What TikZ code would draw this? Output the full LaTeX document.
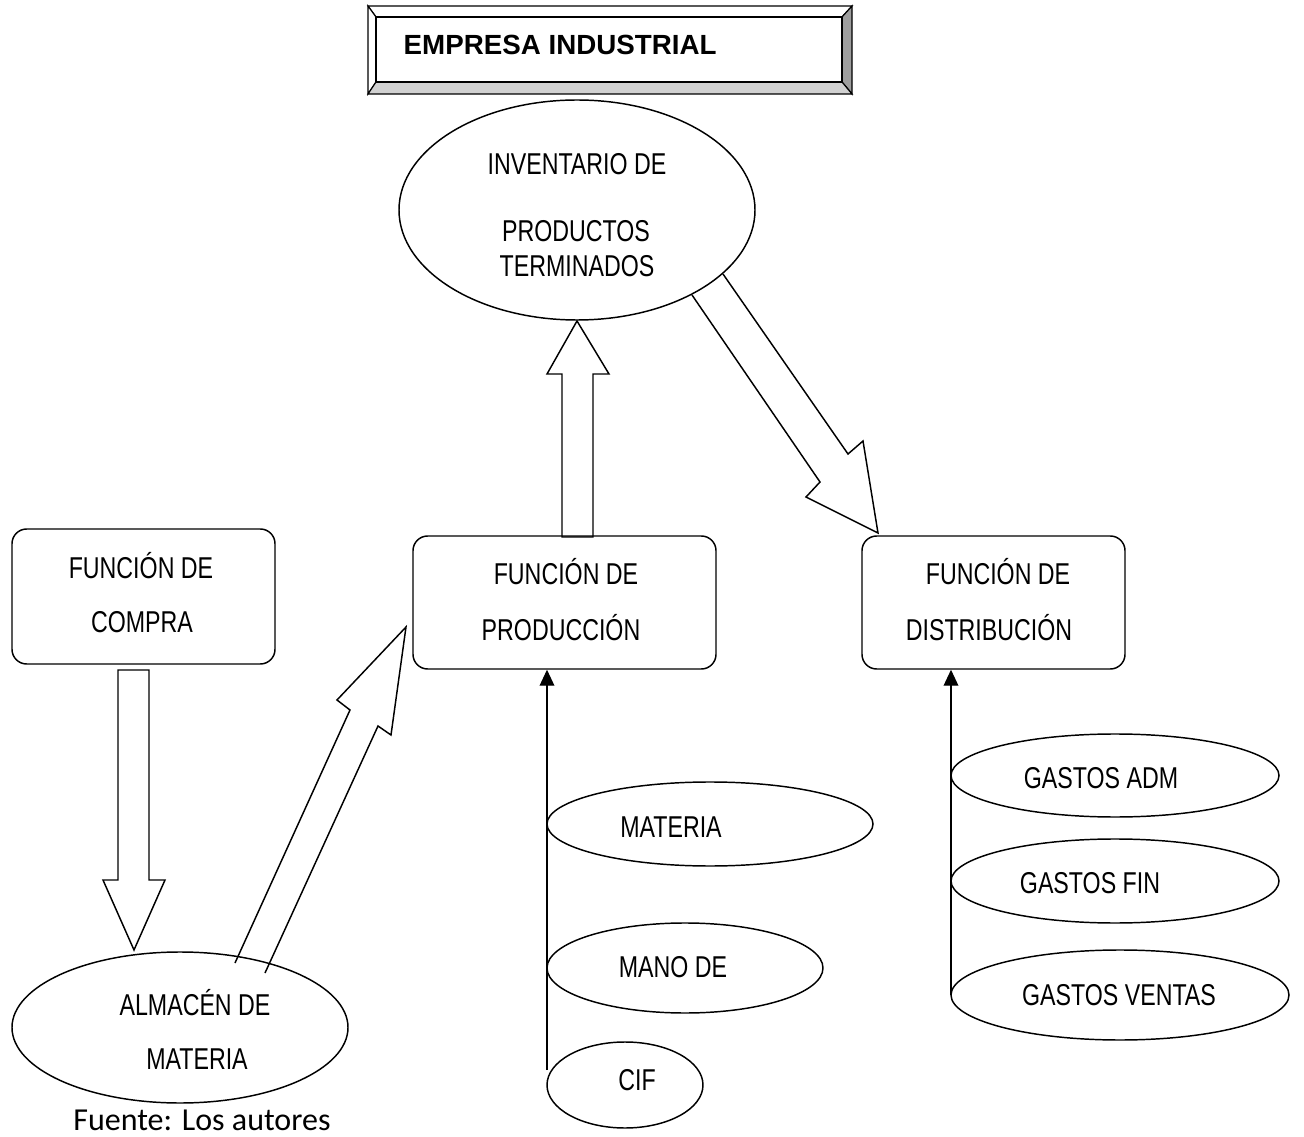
\documentclass[tikz,border=0pt]{standalone}
\usepackage{fontspec}
\setmainfont{Liberation Sans}
\newfontfamily\labfont{Liberation Sans}[FakeStretch=0.77]
\newfontfamily\srcfont{Carlito}
\usetikzlibrary{shapes.geometric,arrows.meta}
\begin{document}
\begin{tikzpicture}[x=0.75pt,y=-0.75pt,line width=1.1pt,
  box/.style={draw,rounded corners=11pt,inner sep=0pt},
  oval/.style={draw,ellipse,inner sep=0pt},
  lab/.style={anchor=base,inner sep=0pt,font=\labfont\fontsize{22.6}{26}\selectfont},
  blockarrow/.style={draw,line join=miter},
  feed/.style={-{Triangle[length=12pt,width=11pt]}},
  bevel/.style={draw,line width=0.9pt,line join=miter}]
\useasboundingbox (0,0) rectangle (1304,1137);

% title plate
\fill[white] (368,6) rectangle (852,94);
\draw[bevel,fill=white] (368,6) -- (852,6) -- (842,17) -- (376,17) -- cycle;
\draw[bevel,fill=white] (368,6) -- (376,17) -- (376,82) -- (368,94) -- cycle;
\draw[bevel,fill=black!38] (852,6) -- (852,94) -- (842,82) -- (842,17) -- cycle;
\draw[bevel,fill=black!18] (368,94) -- (852,94) -- (842,82) -- (376,82) -- cycle;
\node[draw,line width=1.1pt,minimum width=349.5pt,minimum height=48.75pt,inner sep=0pt] (title) at (609,49.5) {};
\node[anchor=base west,inner sep=0pt,font=\bfseries\fontsize{20.8}{24}\selectfont] (titleT) at (403,55) {EMPRESA INDUSTRIAL};

% main shapes
\node[oval,minimum width=267pt,minimum height=165pt] (inv) at (577,210) {};
\node[box,minimum width=197.25pt,minimum height=101.25pt] (compra) at (143.5,596.5) {};
\node[box,minimum width=227.25pt,minimum height=99.75pt] (prod) at (564.5,602.5) {};
\node[box,minimum width=197.25pt,minimum height=99.75pt] (dist) at (993.5,602.5) {};
\node[oval,minimum width=252pt,minimum height=113.25pt] (alm) at (180,1027.5) {};

\node[oval,minimum width=244.5pt,minimum height=63pt] (mat) at (710,824) {};
\node[oval,minimum width=207pt,minimum height=67.5pt] (mano) at (685,968) {};
\node[oval,minimum width=117pt,minimum height=64.5pt] (cif) at (625,1085) {};

\node[oval,minimum width=246pt,minimum height=62.25pt] (gadm) at (1115,775.5) {};
\node[oval,minimum width=246pt,minimum height=63pt] (gfin) at (1115,881) {};
\node[oval,minimum width=253.5pt,minimum height=67.5pt] (gven) at (1120,995) {};

% texts
\node[lab] (invT1) at (577,175) {INVENTARIO DE};
\node[lab] (invT2) at (576,242) {PRODUCTOS};
\node[lab] (invT3) at (577,277) {TERMINADOS};
\node[lab] (comT1) at (141,579) {FUNCIÓN DE};
\node[lab] (comT2) at (142,633) {COMPRA};
\node[lab] (proT1) at (566,585) {FUNCIÓN DE};
\node[lab] (proT2) at (561,640) {PRODUCCIÓN};
\node[lab] (disT1) at (998,585) {FUNCIÓN DE};
\node[lab] (disT2) at (989,640) {DISTRIBUCIÓN};
\node[lab] (almT1) at (195,1015) {ALMACÉN DE};
\node[lab] (almT2) at (197,1069) {MATERIA};
\node[lab] (matT) at (671,837) {MATERIA};
\node[lab] (manoT) at (673,977) {MANO DE};
\node[lab] (cifT) at (637,1090) {CIF};
\node[lab] (gadmT) at (1101,788) {GASTOS ADM};
\node[lab] (gfinT) at (1090,893) {GASTOS FIN};
\node[lab] (gvenT) at (1119,1005) {GASTOS VENTAS};
\node[anchor=base,inner sep=0pt,font=\srcfont\fontsize{24}{28}\selectfont] (src) at (202,1130) {Fuente: Los autores};

% block arrows
\draw[blockarrow] (562,537) -- (562,374) -- (547,374) -- (577,321) -- (609,374) -- (593,374) -- (593,537) -- cycle;
\draw[blockarrow] (692,295) -- (820,482) -- (806,497) -- (878,533) -- (863,441) -- (848,454) -- (723,274);
\draw[blockarrow] (118,670) -- (118,880) -- (103,880) -- (134,950) -- (165,880) -- (149,880) -- (149,670) -- cycle;
\draw[blockarrow] (235,963) -- (350,710) -- (337,700) -- (406,627) -- (391,735) -- (378,726) -- (265,973);

% feeder lines
\coordinate (pf) at (547,1070);
\coordinate (df) at (951,995);
\draw[feed] (pf) -- (pf |- prod.south);
\draw[feed] (df) -- (df |- dist.south);
\end{tikzpicture}
\end{document}
